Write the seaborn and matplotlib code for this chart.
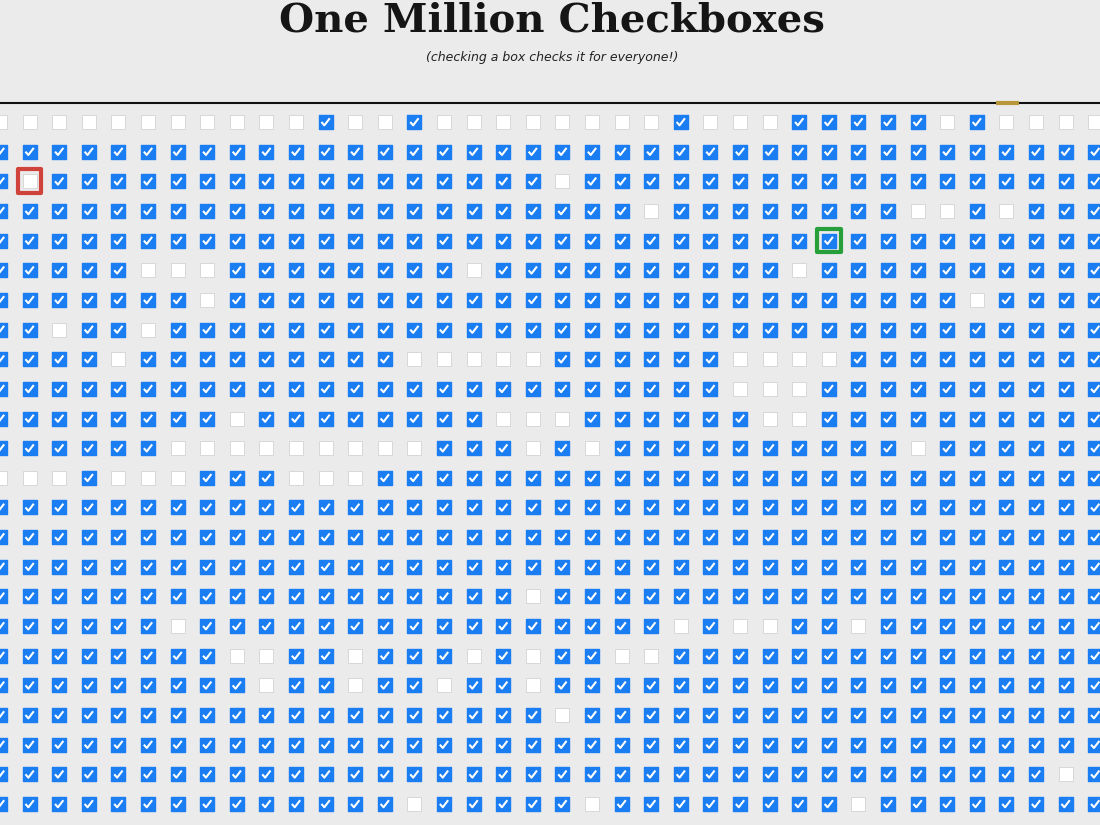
import numpy as np
import pandas as pd
import matplotlib.pyplot as plt
from matplotlib.path import Path
import seaborn as sns

# grid state: columns listed are the empty boxes
n_cols = 38
unchecked = {
    0: [c for c in range(38) if c not in (11, 14, 23, 27, 28, 29, 30, 31, 33)],
    1: [],
    2: [1, 19],
    3: [22, 31, 32, 34],
    4: [],
    5: [5, 6, 7, 16, 27],
    6: [7, 33],
    7: [2, 5],
    8: [4, 14, 15, 16, 17, 18, 25, 26, 27, 28],
    9: [25, 26, 27],
    10: [8, 17, 18, 19, 26, 27],
    11: [6, 7, 8, 9, 10, 11, 12, 13, 14, 18, 20, 31],
    12: [0, 1, 2, 4, 5, 6, 10, 11, 12],
    13: [], 14: [], 15: [],
    16: [18],
    17: [6, 23, 25, 26, 29],
    18: [8, 9, 12, 16, 18, 21, 22],
    19: [9, 12, 15, 18],
    20: [19],
    21: [],
    22: [36],
    23: [14, 20, 29],
}
red_box = (1, 2)     # (col, row)
green_box = (28, 4)

rows = []
for r, empties in unchecked.items():
    for c in range(n_cols):
        rows.append({"col": c, "row": r, "checked": c not in empties})
df = pd.DataFrame(rows)
df["x"] = df["col"] * 29.6
df["y"] = 122 + df["row"] * 29.65

bg = "#ebebeb"
blue = "#1a7df1"

fig = plt.figure(figsize=(11, 8.25), dpi=100, facecolor=bg)
ax = fig.add_axes([0, 0, 1, 1])
ax.set_facecolor(bg)
ax.set_xlim(0, 1100)
ax.set_ylim(825, 0)
ax.axis("off")

# empty boxes
sns.scatterplot(data=df[~df["checked"]], x="x", y="y", marker="s", s=100,
                color="white", edgecolor="#d8d8d8", linewidth=0.7, ax=ax, legend=False)
# checked boxes
sns.scatterplot(data=df[df["checked"]], x="x", y="y", marker="s", s=105,
                color=blue, edgecolor=blue, linewidth=1.0, ax=ax, legend=False)

# check marks
check = Path([(-0.5, 0.0), (-0.15, -0.4), (0.5, 0.45)],
             [Path.MOVETO, Path.LINETO, Path.LINETO])
chk = df[df["checked"]]
ax.scatter(chk["x"], chk["y"], marker=check, s=36, facecolors="none",
           edgecolors="white", linewidths=1.5, zorder=5)

# highlighted boxes
for (c, r), col in [(red_box, "#d0433b"), (green_box, "#27a03c")]:
    ax.scatter([c * 29.6], [122 + r * 29.65], marker="s", s=290,
               facecolors="none", edgecolors=col, linewidths=3, zorder=6)

# header
ax.axhline(103, color="#111111", lw=1.5)
ax.plot([996, 1019], [103, 103], color="#b8963a", lw=3, solid_capstyle="butt")
ax.text(552, 21, "One Million Checkboxes", ha="center", va="center",
        fontsize=29, fontweight="heavy", family="DejaVu Serif", color="#151515")
ax.text(552, 57, "(checking a box checks it for everyone!)", ha="center", va="center",
        fontsize=9, style="italic", color="#222222")

fig.savefig("out.png", dpi=100, facecolor=bg)
